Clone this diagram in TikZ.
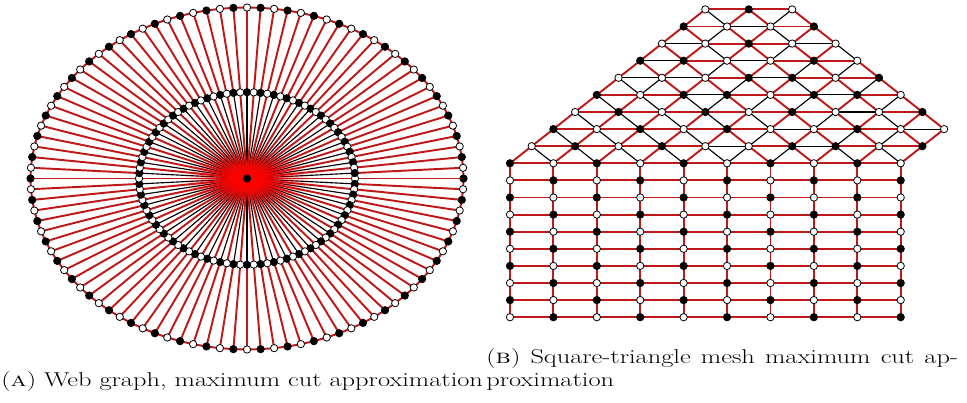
\documentclass[tikz,border=0pt]{standalone}
\usetikzlibrary{fadings}
\definecolor{cutred}{RGB}{190,24,24}
\tikzfading[name=hazefade, inner color=transparent!0, outer color=transparent!100]
\tikzset{
  cutedge/.style={draw=cutred, line width=1.45pt},
  samedge/.style={draw=black, line width=0.85pt},
  vb/.style={circle, draw=black, fill=black, line width=0.6pt, inner sep=0pt, minimum size=5.5pt},
  vw/.style={vb, fill=white},
  capt/.style={anchor=base west, inner sep=0pt, xscale=1.32, font=\fontsize{15}{18}\selectfont}
}
\newcommand\setv[4]{%
  \coordinate (#1) at ({#2},{#3});%
  \expandafter\xdef\csname clr-#1\endcsname{#4}}
\newcommand\medge[2]{%
  \ifcsname clr-#2\endcsname
    \edef\mca{\csname clr-#1\endcsname}%
    \edef\mcb{\csname clr-#2\endcsname}%
    \ifx\mca\mcb\draw[samedge] (#1) -- (#2);\else\draw[cutedge] (#1) -- (#2);\fi
  \fi}
\newcommand\putv[1]{%
  \edef\mcc{\csname clr-#1\endcsname}%
  \ifnum\mcc=1 \node[vb] (v-#1) at (#1) {};\else\node[vw] (v-#1) at (#1) {};\fi}
\newcommand\trirow[2]{%
  \foreach \cv [count=\i from 0] in {#2}{%
    \setv{t-#1-\i}{510+43.41*(#1/2+\i)}{163.3-17.1*#1}{\cv}}}
\begin{document}
\begin{tikzpicture}[x=0.75pt,y=-0.75pt]
\useasboundingbox (0,0) rectangle (967,403);
% ---------- web graph ----------
\setv{w-c}{247}{178.5}{1}
\foreach \i in {0,...,99}{%
  \pgfmathsetmacro\ang{3.6*\i}%
  \pgfmathtruncatemacro\po{mod(\i+1,2)}%
  \pgfmathtruncatemacro\pin{mod(\i,2)}%
  \setv{w-o-\i}{247+216.5*cos(\ang)}{178.5+171*sin(\ang)}{\po}%
  \setv{w-i-\i}{247+108*cos(\ang)}{178.5+86.3*sin(\ang)}{\pin}%
}
\foreach \i in {1,3,...,99}{\draw[samedge] (w-c) -- (w-i-\i);}
\foreach \i in {0,2,...,98}{\draw[cutedge] (w-c) -- (w-i-\i);}
\fill[red, path fading=hazefade] (w-c) ellipse [x radius=64, y radius=28];
\fill[red, path fading=hazefade] (w-c) ellipse [x radius=34, y radius=20];
\foreach \i in {0,...,99}{%
  \pgfmathtruncatemacro\nx{mod(\i+1,100)}%
  \medge{w-i-\i}{w-o-\i}%
  \medge{w-i-\i}{w-i-\nx}%
  \medge{w-o-\i}{w-o-\nx}%
}
\foreach \i in {0,...,99}{\putv{w-o-\i}\putv{w-i-\i}}
\putv{w-c}
% ---------- square-triangle mesh ----------
\trirow{0}{1,0,1,0,1,0,1,0,1,0}
\trirow{1}{0,1,0,1,0,0,1,1,0,1}
\trirow{2}{1,0,1,0,1,0,0,1,0,0}
\trirow{3}{0,1,0,1,0,1,0,0,1}
\trirow{4}{1,0,1,1,0,1,1,0}
\trirow{5}{0,0,0,1,1,0,1}
\trirow{6}{1,1,0,0,1,0}
\trirow{7}{0,0,1,0,0}
\trirow{8}{1,0,0,1}
\trirow{9}{0,1,0}
\foreach \r in {1,...,9}{%
  \foreach \cc in {0,...,9}{%
    \pgfmathtruncatemacro\bw{mod(\r+\cc+1,2)}%
    \setv{q-\r-\cc}{510+43.41*\cc}{163.3+17.1*\r}{\bw}}}
% square edges
\foreach \cc in {0,...,9}{\medge{t-0-\cc}{q-1-\cc}}
\foreach \r in {1,...,9}{%
  \foreach \cc in {0,...,9}{%
    \pgfmathtruncatemacro\cp{\cc+1}%
    \pgfmathtruncatemacro\rp{\r+1}%
    \medge{q-\r-\cc}{q-\r-\cp}%
    \medge{q-\r-\cc}{q-\rp-\cc}}}
% triangle edges
\foreach \k/\n in {0/10,1/10,2/10,3/9,4/8,5/7,6/6,7/5,8/4,9/3}{%
  \pgfmathtruncatemacro\kk{\k+1}%
  \pgfmathtruncatemacro\last{\n-1}%
  \foreach \i in {0,...,\last}{%
    \pgfmathtruncatemacro\ip{\i+1}%
    \pgfmathtruncatemacro\im{\i-1}%
    \medge{t-\k-\i}{t-\k-\ip}%
    \medge{t-\k-\i}{t-\kk-\i}%
    \medge{t-\k-\i}{t-\kk-\im}}}
% vertices
\foreach \k/\n in {0/10,1/10,2/10,3/9,4/8,5/7,6/6,7/5,8/4,9/3}{%
  \pgfmathtruncatemacro\last{\n-1}%
  \foreach \i in {0,...,\last}{\putv{t-\k-\i}}}
\foreach \r in {1,...,9}{\foreach \cc in {0,...,9}{\putv{q-\r-\cc}}}
% ---------- captions ----------
\node[capt] (capa) at (1,386) {(\textsc{a}) Web graph, maximum cut approximation};
\node[capt] (capb1) at (486,363) {\makebox[268pt][s]{(\textsc{b}) Square-triangle mesh maximum cut ap-}};
\node[capt] (capb2) at (486,386) {proximation};
\end{tikzpicture}
\end{document}
